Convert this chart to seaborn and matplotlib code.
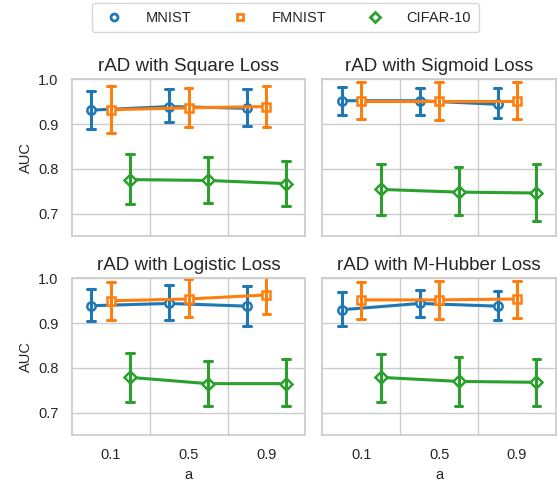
import numpy as np
import pandas as pd
import matplotlib.pyplot as plt
from matplotlib.lines import Line2D
import seaborn as sns

# values: centre point, lower and upper error bar ends
a_levels = ["0.1", "0.5", "0.9"]
datasets = ["MNIST", "FMNIST", "CIFAR-10"]
titles = ["rAD with Square Loss", "rAD with Sigmoid Loss",
          "rAD with Logistic Loss", "rAD with M-Hubber Loss"]

square_mid = [[0.931, 0.939, 0.935], [0.932, 0.936, 0.939], [0.776, 0.774, 0.767]]
square_lo = [[0.889, 0.904, 0.895], [0.879, 0.893, 0.893], [0.722, 0.724, 0.718]]
square_hi = [[0.973, 0.978, 0.978], [0.985, 0.981, 0.985], [0.832, 0.827, 0.818]]

sigmoid_mid = [[0.952, 0.952, 0.944], [0.952, 0.952, 0.952], [0.754, 0.748, 0.746]]
sigmoid_lo = [[0.920, 0.920, 0.913], [0.911, 0.910, 0.911], [0.696, 0.696, 0.684]]
sigmoid_hi = [[0.983, 0.981, 0.981], [0.994, 0.994, 0.993], [0.810, 0.804, 0.810]]

logistic_mid = [[0.939, 0.944, 0.938], [0.950, 0.954, 0.963], [0.779, 0.765, 0.765]]
logistic_lo = [[0.904, 0.906, 0.893], [0.906, 0.914, 0.920], [0.724, 0.715, 0.715]]
logistic_hi = [[0.977, 0.985, 0.983], [0.992, 0.998, 1.005], [0.833, 0.816, 0.819]]

hubber_mid = [[0.930, 0.944, 0.938], [0.952, 0.952, 0.954], [0.779, 0.770, 0.768]]
hubber_lo = [[0.893, 0.914, 0.908], [0.909, 0.909, 0.911], [0.725, 0.716, 0.716]]
hubber_hi = [[0.970, 0.974, 0.972], [0.992, 0.994, 0.994], [0.831, 0.824, 0.819]]

panels = [(square_mid, square_lo, square_hi),
          (sigmoid_mid, sigmoid_lo, sigmoid_hi),
          (logistic_mid, logistic_lo, logistic_hi),
          (hubber_mid, hubber_lo, hubber_hi)]


def make_df(mid, lo, hi):
    rows = []
    for i, d in enumerate(datasets):
        for j, a in enumerate(a_levels):
            for v in (lo[i][j], mid[i][j], hi[i][j]):
                rows.append({"a": a, "dataset": d, "AUC": v})
    return pd.DataFrame(rows)


sns.set_theme(style="whitegrid")
plt.rcParams['font.family'] = ['Liberation Sans', 'DejaVu Sans']

palette = sns.color_palette("tab10", 3)
markers = ["o", "s", "D"]

fig, axes = plt.subplots(2, 2, figsize=(5.57, 4.83), dpi=100, sharex=True, sharey=True)
fig.subplots_adjust(left=0.129, right=0.998, top=0.836, bottom=0.099,
                    wspace=0.073, hspace=0.27)

for ax, (mid, lo, hi), title in zip(axes.flat, panels, titles):
    df = make_df(mid, lo, hi)
    sns.pointplot(data=df, x="a", y="AUC", hue="dataset", order=a_levels,
                  hue_order=datasets, palette=palette, markers=markers,
                  estimator="median", errorbar=("pi", 100), dodge=0.5,
                  capsize=0.1, legend=False, ax=ax,
                  markerfacecolor="white", linewidth=2.2,
                  markersize=6, markeredgewidth=1.8,
                  err_kws={"linewidth": 2.2})
    ax.set_title(title, fontsize=13.5, color=".15")
    ax.set_ylim(0.65, 1.0)
    ax.set_yticks([0.7, 0.8, 0.9, 1.0])
    ax.set_xlim(-0.5, 2.5)
    ax.grid(False, axis="x")
    ax.set_xticks([0.5, 1.5], minor=True)
    ax.grid(True, axis="x", which="minor", color=".8")
    ax.tick_params(axis="x", which="minor", length=0)
    ax.tick_params(labelsize=10.5)
    ax.set_xlabel("")
    ax.set_ylabel("")

for ax in axes[:, 0]:
    ax.set_ylabel("AUC", fontsize=10.5)
for ax in axes[1, :]:
    ax.set_xlabel("a", fontsize=10.5)

handles = [Line2D([], [], color=c, marker=m, linestyle="", markerfacecolor="white",
                  markersize=5, markeredgewidth=2) for c, m in zip(palette, markers)]
fig.legend(handles, datasets, loc="upper center", bbox_to_anchor=(0.512, 1.008),
           ncol=3, frameon=True, fontsize=10.5, handletextpad=1.2, columnspacing=2.3,
           borderpad=0.5)

fig.savefig("out.png", dpi=100)
